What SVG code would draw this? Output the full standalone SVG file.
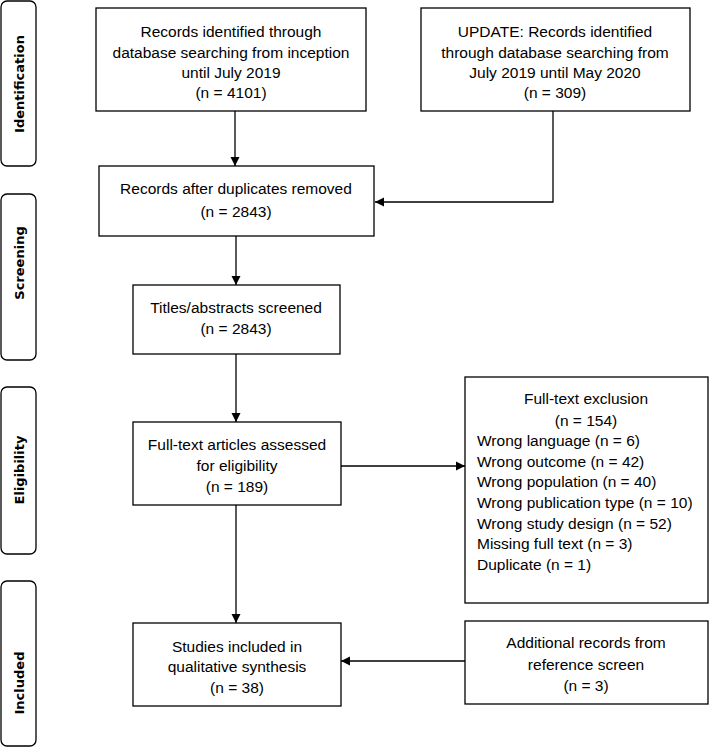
<svg xmlns="http://www.w3.org/2000/svg" width="709" height="748" viewBox="0 0 709 748">
<defs>
<marker id="ah" markerWidth="10" markerHeight="10" refX="9" refY="5" orient="auto" markerUnits="userSpaceOnUse">
<path d="M0,0.5 L9,5 L0,9.5 Z" fill="#000"/>
</marker>
<style>
.box{fill:#fff;stroke:#000;stroke-width:1.3}
.stage{fill:#fff;stroke:#000;stroke-width:1.3}
.t{font-family:"Liberation Sans",Arial,sans-serif;font-size:15.5px;fill:#000;text-anchor:middle}
.tl{font-family:"Liberation Sans",Arial,sans-serif;font-size:15.5px;fill:#000;text-anchor:start}
.lab{font-family:"DejaVu Sans",sans-serif;font-size:13px;font-weight:bold;fill:#000;text-anchor:middle}
.c{fill:none;stroke:#000;stroke-width:1.3}
</style>
</defs>
<rect width="709" height="748" fill="#fff"/>
<g id="stage-identification">
<rect class="stage" x="1" y="1" width="35" height="165" rx="6"/>
<text class="lab" transform="translate(24,84) rotate(-90)">Identification</text>
</g>
<g id="stage-screening">
<rect class="stage" x="1" y="194" width="35" height="166" rx="6"/>
<text class="lab" transform="translate(24,263) rotate(-90)">Screening</text>
</g>
<g id="stage-eligibility">
<rect class="stage" x="1" y="387" width="35" height="167" rx="6"/>
<text class="lab" transform="translate(24,470) rotate(-90)">Eligibility</text>
</g>
<g id="stage-included">
<rect class="stage" x="1" y="581" width="35" height="165" rx="6"/>
<text class="lab" transform="translate(24,683) rotate(-90)">Included</text>
</g>
<g id="connectors">
<line class="c" x1="235" y1="111" x2="235" y2="166" marker-end="url(#ah)"/>
<polyline class="c" points="553,111 553,202 375,202" marker-end="url(#ah)"/>
<line class="c" x1="236" y1="236" x2="236" y2="285" marker-end="url(#ah)"/>
<line class="c" x1="236" y1="354" x2="236" y2="422" marker-end="url(#ah)"/>
<line class="c" x1="341" y1="466" x2="465" y2="466" marker-end="url(#ah)"/>
<line class="c" x1="236" y1="505" x2="236" y2="623" marker-end="url(#ah)"/>
<line class="c" x1="465" y1="661" x2="341" y2="661" marker-end="url(#ah)"/>
</g>
<g id="n1">
<rect class="box" x="96" y="8" width="270" height="103"/>
<text class="t" x="231" y="37">Records identified through</text>
<text class="t" x="231" y="58">database searching from inception</text>
<text class="t" x="231" y="78">until July 2019</text>
<text class="t" x="231" y="98">(n = 4101)</text>
</g>
<g id="n2">
<rect class="box" x="421" y="8" width="269" height="103"/>
<text class="t" x="555" y="37">UPDATE: Records identified</text>
<text class="t" x="555" y="58">through database searching from</text>
<text class="t" x="555" y="78">July 2019 until May 2020</text>
<text class="t" x="555" y="98">(n = 309)</text>
</g>
<g id="n3">
<rect class="box" x="99" y="166" width="275" height="70"/>
<text class="t" x="236" y="194">Records after duplicates removed</text>
<text class="t" x="236" y="217">(n = 2843)</text>
</g>
<g id="n4">
<rect class="box" x="133" y="285" width="207" height="69"/>
<text class="t" x="236" y="313">Titles/abstracts screened</text>
<text class="t" x="236" y="334">(n = 2843)</text>
</g>
<g id="n5">
<rect class="box" x="133" y="422" width="208" height="83"/>
<text class="t" x="237" y="450">Full-text articles assessed</text>
<text class="t" x="237" y="471">for eligibility</text>
<text class="t" x="237" y="492">(n = 189)</text>
</g>
<g id="n6">
<rect class="box" x="465" y="377" width="243" height="226"/>
<text class="t" x="586" y="404">Full-text exclusion</text>
<text class="t" x="586" y="426">(n = 154)</text>
<text class="tl" x="477" y="446">Wrong language (n = 6)</text>
<text class="tl" x="477" y="467">Wrong outcome (n = 42)</text>
<text class="tl" x="477" y="487">Wrong population (n = 40)</text>
<text class="tl" x="477" y="508">Wrong publication type (n = 10)</text>
<text class="tl" x="477" y="529">Wrong study design (n = 52)</text>
<text class="tl" x="477" y="549">Missing full text (n = 3)</text>
<text class="tl" x="477" y="570">Duplicate (n = 1)</text>
</g>
<g id="n7">
<rect class="box" x="133" y="623" width="208" height="83"/>
<text class="t" x="237" y="652">Studies included in</text>
<text class="t" x="237" y="672">qualitative synthesis</text>
<text class="t" x="237" y="693">(n = 38)</text>
</g>
<g id="n8">
<rect class="box" x="465" y="621" width="243" height="83"/>
<text class="t" x="586" y="648">Additional records from</text>
<text class="t" x="586" y="670">reference screen</text>
<text class="t" x="586" y="691">(n = 3)</text>
</g>
</svg>
